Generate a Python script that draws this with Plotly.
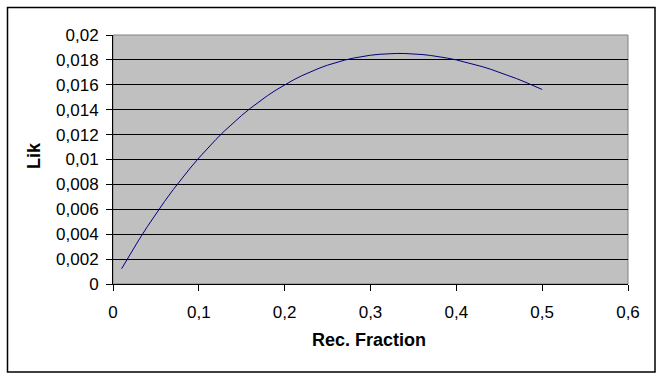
import plotly.graph_objects as go

# Recombination fraction (x) and likelihood (y)
rec_fraction = [0.01, 0.02, 0.03, 0.04, 0.05, 0.06, 0.07, 0.08, 0.09, 0.10,
                0.11, 0.12, 0.13, 0.14, 0.15, 0.16, 0.17, 0.18, 0.19, 0.20,
                0.21, 0.22, 0.23, 0.24, 0.25, 0.26, 0.27, 0.28, 0.29, 0.30,
                0.31, 0.32, 0.33, 0.34, 0.35, 0.36, 0.37, 0.38, 0.39, 0.40,
                0.41, 0.42, 0.43, 0.44, 0.45, 0.46, 0.47, 0.48, 0.49, 0.50]
lik = [0.001225, 0.002401, 0.003528, 0.004608, 0.005641, 0.006627, 0.007568, 0.008464, 0.009316, 0.010125,
       0.010891, 0.011616, 0.012300, 0.012943, 0.013547, 0.014112, 0.014639, 0.015129, 0.015582, 0.016000,
       0.016383, 0.016731, 0.017046, 0.017328, 0.017578, 0.017797, 0.017985, 0.018144, 0.018274, 0.018375,
       0.018449, 0.018496, 0.018517, 0.018513, 0.018484, 0.018432, 0.018357, 0.018259, 0.018140, 0.018000,
       0.017840, 0.017661, 0.017463, 0.017248, 0.017016, 0.016767, 0.016503, 0.016224, 0.015931, 0.015625]

x_ticks = [0, 0.1, 0.2, 0.3, 0.4, 0.5, 0.6]
x_tick_labels = ["0", "0,1", "0,2", "0,3", "0,4", "0,5", "0,6"]
y_ticks = [0, 0.002, 0.004, 0.006, 0.008, 0.01, 0.012, 0.014, 0.016, 0.018, 0.02]
y_tick_labels = ["0", "0,002", "0,004", "0,006", "0,008", "0,01", "0,012", "0,014", "0,016", "0,018", "0,02"]

FONT = "Arial, Liberation Sans, sans-serif"

fig = go.Figure()
fig.add_trace(go.Scatter(x=rec_fraction, y=lik, mode="lines",
                         line=dict(color="#000080", width=1), showlegend=False,
                         hoverinfo="skip"))

L, R, T, B = 113, 36, 35, 96
W, H = 664, 380
pw, ph = W - L - R, H - T - B

def px(x):
    return (x - L) / pw

def py(y):
    return (H - B - y) / ph

fig.update_layout(
    width=W, height=H,
    margin=dict(l=L, r=R, t=T, b=B, pad=0),
    paper_bgcolor="white",
    plot_bgcolor="#C0C0C0",
    font=dict(family=FONT, size=17, color="black"),
    xaxis=dict(range=[0, 0.6], tickvals=x_ticks, ticktext=x_tick_labels,
               showgrid=False, zeroline=False, showline=True, linecolor="black",
               linewidth=1, ticks="outside", ticklen=6, tickcolor="black",
               tickfont=dict(size=17), ticklabelstandoff=7, fixedrange=True),
    yaxis=dict(range=[0, 0.02], tickvals=y_ticks, ticktext=y_tick_labels,
               showgrid=True, gridcolor="black", gridwidth=1, zeroline=False,
               showline=True, linecolor="black", linewidth=1,
               ticks="outside", ticklen=6, tickcolor="black",
               tickfont=dict(size=17), ticklabelstandoff=4, fixedrange=True),
    shapes=[
        dict(type="rect", xref="paper", yref="paper", x0=0, x1=1, y0=0, y1=1,
             line=dict(color="#808080", width=1), layer="below"),
        dict(type="rect", xref="paper", yref="paper",
             x0=px(7.5), x1=px(655), y0=py(372), y1=py(7.5),
             line=dict(color="black", width=1.5)),
    ],
    annotations=[
        dict(text="<b>Lik</b>", xref="paper", yref="paper", x=px(34), y=py(156),
             showarrow=False, textangle=-90, font=dict(size=18),
             xanchor="center", yanchor="middle"),
        dict(text="<b>Rec. Fraction</b>", xref="paper", yref="paper", x=px(369), y=py(340),
             showarrow=False, font=dict(size=18), xanchor="center", yanchor="middle"),
    ],
)

fig.write_html("out.html",
               config={"displayModeBar": False, "staticPlot": True},
               post_script="document.body.style.margin='0';document.body.style.overflow='hidden';")
